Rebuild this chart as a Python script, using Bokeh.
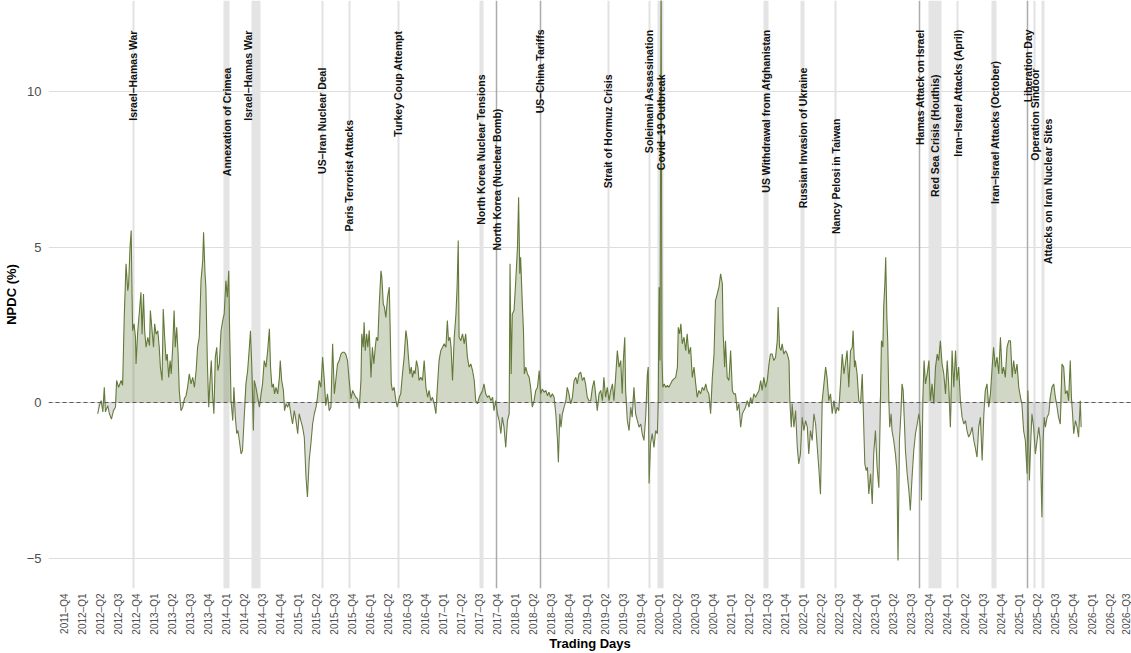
import numpy as np
from math import pi
from bokeh.plotting import figure
from bokeh.models import ColumnDataSource, FixedTicker
from bokeh.core.properties import value
from bokeh.embed import file_html
from bokeh.resources import INLINE

# ---------------- data ----------------
trading_day = [
    0, 6, 12, 18, 23, 27, 35, 41, 48, 55, 62, 66, 73, 82, 87, 93, 99, 105, 108, 113, 117, 120, 122, 127, 132, 134,
    140, 146, 151, 155, 160, 164, 169, 175, 181, 184, 190, 195, 199, 204, 210, 215, 219, 225, 229, 234, 239, 243,
    248, 253, 257, 262, 267, 271, 276, 281, 285, 291, 297, 303, 309, 314, 320, 326, 332, 338, 344, 349, 355, 361,
    367, 370, 375, 378, 383, 388, 392, 397, 402, 406, 411, 416, 420, 425, 431, 437, 442, 448, 453, 458, 461, 466,
    472, 476, 481, 486, 490, 495, 501, 506, 512, 518, 524, 530, 534, 539, 544, 547, 553, 559, 565, 571, 576, 582,
    588, 594, 600, 604, 609, 614, 618, 623, 629, 635, 638, 643, 649, 653, 658, 664, 669, 675, 681, 687, 693, 699,
    704, 710, 716, 722, 728, 733, 739, 745, 751, 757, 763, 768, 774, 780, 786, 792, 797, 803, 809, 815, 821, 827,
    832, 838, 844, 850, 856,
    861, 867, 873, 879, 885, 891, 896, 902, 908, 914, 920, 923, 928, 931, 935, 940, 944, 949, 955, 960, 965, 970,
    974, 979, 984, 990, 993, 998, 1002, 1007, 1013, 1019, 1022, 1026, 1030, 1036, 1042, 1047, 1054, 1059, 1065,
    1071, 1077, 1082, 1086, 1091, 1096, 1100, 1105, 1109, 1114, 1119, 1123, 1129, 1135, 1141, 1147, 1153, 1158,
    1164, 1170, 1176, 1182, 1187, 1193, 1199, 1205, 1211, 1217, 1222, 1226, 1231, 1235, 1240, 1246, 1252, 1256,
    1260, 1263, 1269, 1275, 1281, 1286, 1292, 1298, 1304, 1310, 1316, 1321, 1327, 1333, 1339, 1345, 1350, 1356,
    1362, 1368, 1374, 1380, 1385, 1391, 1397, 1403, 1409, 1414, 1420, 1426, 1432, 1438, 1441, 1445, 1449, 1455,
    1461, 1467, 1471, 1475, 1478, 1484, 1488, 1491, 1496, 1502, 1508, 1513, 1519, 1525, 1531, 1537, 1543, 1548,
    1554, 1560, 1566, 1572, 1577, 1583, 1589, 1595, 1601, 1607, 1610, 1615, 1619, 1624, 1630, 1636, 1641, 1647,
    1653, 1659, 1665, 1671, 1676, 1682, 1688, 1694, 1700, 1705, 1711, 1717,
    1723, 1729, 1735, 1740, 1746, 1752, 1758, 1764, 1769, 1775, 1781, 1787, 1793, 1799, 1804, 1810, 1816, 1822,
    1828, 1833, 1837, 1842, 1845, 1851, 1857, 1863, 1868, 1874, 1880, 1886, 1892, 1898, 1903, 1909, 1915, 1921,
    1924, 1927, 1932, 1938, 1944, 1950, 1956, 1959, 1962, 1965, 1969, 1972, 1975, 1980, 1985, 1991, 1996, 2002,
    2008, 2014, 2020, 2026, 2029, 2034, 2038, 2043, 2049, 2055, 2060, 2066, 2072, 2078, 2084, 2090, 2095, 2101,
    2107, 2113, 2119, 2125, 2130, 2136, 2142, 2148, 2154, 2159, 2165, 2171, 2177, 2183, 2186, 2191, 2194, 2200,
    2206, 2212, 2218, 2223, 2229, 2235, 2241, 2247, 2253, 2258, 2264, 2270, 2276, 2282, 2287, 2293, 2299, 2305,
    2311, 2317, 2322, 2328, 2334, 2340, 2346, 2351, 2357, 2363, 2369, 2375, 2378, 2383, 2388, 2392, 2398, 2404,
    2410, 2416, 2419, 2424, 2427, 2433, 2439, 2445, 2450, 2456, 2462, 2468, 2474, 2480, 2485, 2491, 2497, 2503,
    2509, 2514, 2520, 2526, 2532, 2538, 2544, 2549, 2555, 2561, 2567, 2573, 2579, 2584, 2590,
    2596, 2602, 2608, 2613, 2619, 2625, 2631, 2637, 2640, 2645, 2648, 2654, 2660, 2666, 2672, 2675, 2681, 2686,
    2690, 2695, 2701, 2707, 2712, 2718, 2724, 2730, 2736, 2739, 2744, 2747, 2751, 2754, 2758, 2761, 2765, 2768,
    2773, 2776, 2782, 2788, 2793, 2797, 2802, 2807, 2811, 2815, 2820, 2823, 2829, 2835, 2840, 2846, 2852, 2858,
    2864, 2870, 2875, 2879, 2884, 2888, 2893, 2899, 2905, 2910, 2916, 2922, 2928, 2934, 2939, 2945, 2951, 2957,
    2963, 2969, 2974, 2980, 2986, 2992, 2998, 3003, 3009, 3015, 3021, 3027, 3033, 3038, 3044, 3050, 3056, 3062,
    3067, 3073, 3079, 3085, 3091, 3097, 3102, 3108, 3114, 3120, 3126, 3131, 3137, 3143, 3149, 3155, 3161, 3166,
    3172, 3178, 3184, 3190, 3196, 3201, 3207, 3213, 3219, 3225, 3230, 3236, 3242, 3248, 3251, 3256, 3261, 3265,
    3271, 3277, 3283, 3289, 3294, 3300, 3304, 3308, 3312, 3318, 3324, 3329, 3335, 3341, 3347, 3353, 3358, 3364,
    3370, 3376, 3382, 3388, 3393, 3399, 3403, 3407, 3411, 3417, 3423, 3428, 3434, 3437,
]
npdc = [
    -0.36, -0.1, 0.06, -0.3, 0.49, -0.3, -0.1, -0.36, -0.53, -0.26, -0.15, 0.71, 0.49, 0.71, 0.55, 2.85, 4.46, 3.6,
    3.8, 5.0, 5.53, 3.49, 2.31, 2.53, 2.1, 1.24, 2.31, 2.96, 3.55, 2.2, 3.49, 2.31, 1.78, 2.1, 1.83, 2.96, 2.31,
    1.78, 2.53, 2.2, 2.31, 1.78, 1.14, 0.71, 3.01, 2.1, 1.35, 1.56, 0.81, 1.35, 0.92, 1.78, 2.96, 1.78, 2.42, 1.56,
    0.39, -0.26, -0.15, 0.12, 0.23, 0.49, 0.92, 0.6, 0.81, 0.49, 1.03, 1.78, 2.1, 3.92, 4.57, 5.48, 4.14, 3.71,
    1.35, -0.15, 0.6, 1.35, 0.17, -0.36, 1.46, 1.78, 1.03, 1.24, 2.31, 2.64, 2.85, 3.92, 3.39, 4.24, 2.31, 0.06,
    -0.58, 0.49, -0.47, -1.0, -0.9, -1.22, -1.65, -1.54, -0.47, 0.6, 1.03, 1.78, 2.31, 1.03, -0.9, 0.71, 0.49,
    0.17, -0.15, 0.28, 0.6, 1.35, 1.14, 1.67, 2.37, 1.14, 0.49, 0.6, 0.28, 0.49, 0.28, 0.81, 1.35, 0.71, 0.39,
    -0.26, -0.04, -0.15, 0.01, -0.36, -0.69, -0.26, -0.58, -1.0, -0.36, -0.58, -0.79, -1.11, -2.4, -3.04, -1.86,
    -1.33, -0.69, -0.36, -0.15, 0.17, 0.71, 0.49, 1.46, 0.71, -0.1, 0.28, -0.26, -0.15, 1.89, 0.28, 0.71, 1.24,
    1.35, 1.56, 1.62,
    1.62, 1.56, 1.35, 0.71, 0.12, 0.39, 0.28, 0.17, 0.12, -0.2, 0.71, 2.21, 1.78, 2.58, 1.67, 2.21, 1.78, 2.32,
    0.81, 1.78, 1.24, 1.78, 2.1, 1.99, 3.17, 4.24, 4.03, 3.17, 3.07, 2.74, 3.39, 3.71, 2.42, 0.6, 0.39, 0.49, 0.06,
    -0.15, 0.17, 0.28, 0.92, 1.46, 2.32, 1.99, 1.46, 0.92, 1.14, 0.81, 1.03, 0.92, 1.35, 1.14, 0.71, 0.81, 0.71,
    1.35, 0.49, 0.17, 0.39, 0.06, 0.17, -0.04, -0.36, 0.49, 1.35, 1.67, 1.78, 1.89, 1.78, 2.64, 1.99, 2.1, 1.78,
    0.71, 2.1, 2.85, 3.71, 5.21, 2.1, 1.99, 2.21, 1.89, 2.21, 1.46, 1.14, 1.24, 1.03, 0.71, 0.06, -0.04, 0.17, 0.28,
    0.39, 0.6, 0.28, 0.17, 0.22, 0.06, 0.17, -0.26, 0.06, -0.36, -0.58, -1.0, -0.47, -0.79, -1.44, -0.58, -0.36,
    4.46, 0.92, 2.85, 2.96, 3.92, 4.99, 6.6, 4.14, 4.67, 3.17, 2.32, 0.92, 1.14, 0.92, 0.81, 0.49, -0.15, 0.06,
    0.39, 0.49, 1.03, 0.28, 0.44, 0.33, 0.39, 0.22, 0.33, 0.17, 0.28, 0.17, -0.36, -1.22, -1.92, -0.36, -0.79,
    -0.36, -0.15, 0.06, 0.49, 0.28, -0.04, 0.17, 0.71, 0.81, 0.6, 0.92, 0.98, 0.71, 0.81, 0.6, 0.17, 0.06,
    0.06, 0.49, 0.71, 0.28, -0.26, 0.28, 0.39, 0.06, 0.81, 0.17, 0.49, 0.06, 0.39, 0.6, 0.06, 0.81, 1.67, 1.14,
    1.35, 0.28, 1.35, 2.1, 0.39, -0.58, -0.9, -0.15, -0.47, 0.49, -0.36, -0.58, -0.79, -0.69, -1.0, -1.22, -0.47,
    0.92, 1.14, -2.6, -1.33, -1.0, -1.44, -0.9, -1.0, 0.06, 3.71, 1.35, 14.0, 1.46, 0.49, 0.6, 0.49, 0.55, 0.49,
    0.6, 0.71, 0.76, 0.81, 1.14, 2.42, 2.21, 2.53, 1.89, 2.1, 1.67, 2.21, 1.56, 1.78, 0.81, 1.14, 0.6, 0.17, 0.39,
    0.28, 0.49, 0.39, 0.6, 0.39, 0.28, -0.36, 0.81, 1.56, 3.28, 3.49, 3.71, 4.14, 3.82, 2.21, 1.14, 1.99, 0.81,
    0.71, 1.67, 0.39, 0.28, 0.28, -0.26, -0.04, -0.79, -0.36, -0.26, -0.15, 0.06, -0.15, 0.17, -0.04, 0.28, 0.17,
    0.28, 0.39, 0.71, 0.39, 0.81, 0.49, 0.71, 1.24, 1.56, 1.56, 1.35, 1.46, 1.99, 3.07, 1.78, 1.67, 1.89, 1.56,
    1.67, 1.56, 1.35, 0.06, -0.79, -0.04, -0.79, -0.26, -1.44, -1.97, -1.65, -0.47, -0.9, -0.58, -0.79, -1.65,
    -0.9, -1.22, -0.36, -0.69, -1.33, -2.08, -2.95, 0.06, 0.6, 1.14, 0.81, 0.06, 0.28, -0.36, 0.06, -0.36, -0.15,
    -0.26,
    0.6, 1.56, 0.92, 1.24, 1.67, 0.49, 1.67, 1.78, 2.32, 1.14, 1.35, 0.92, 0.06, -0.04, 0.92, -0.04, -1.97, -2.19,
    -2.08, -2.94, -2.29, -3.26, -1.65, -0.9, -2.08, -2.74, 0.28, 1.99, 1.78, 3.07, 3.82, 4.67, 2.74, 1.99, 0.06,
    -0.79, -0.36, -0.9, -1.22, -1.65, -2.19, -5.08, -1.22, -0.36, 0.6, 0.39, -0.79, -1.54, -2.29, -2.83, -3.47,
    -2.4, -1.54, -1.0, -0.69, -0.36, -0.79, -3.15, 0.17, 1.35, 0.6, 0.92, 1.35, 0.06, 0.6, -0.04, 1.14, 1.56, 1.35,
    1.99, 1.24, 0.92, 0.28, 1.35, 0.6, -0.79, 1.67, 0.49, 1.67, 0.71, 1.14, 0.06, -0.47, -0.69, -0.58, -0.9, -1.11,
    -1.0, -0.79, -1.22, -1.44, -1.76, -0.79, -0.47, -1.86, -0.36, 0.39, 0.6, -0.15, 0.28, 1.14, 1.78, 1.14, 1.46,
    0.92, 2.1, 0.92, 1.14, 0.81, 1.78, 1.99, 1.99, 0.81, 1.35, 0.92, 1.24, 0.49, 0.17, -0.04, -0.9, -1.22, -2.29,
    0.39, -2.51, -1.22, -0.36, -0.79, -1.65, -1.22, -0.79, -1.22, -3.69, -1.22, -0.47, -0.79, -0.47, -0.36, 0.17,
    0.49, 0.6, 0.17, -0.15, -0.47, -0.69, 1.24, 1.14, 0.28, 0.39, 0.06, 1.35, 0.17, -0.36, -1.0, -0.58, -0.79,
    -1.11, 0.06, -0.79,
]

# quarter tick labels on the trading-day axis
quarter_labels = (["2011–Q4"]
                  + [f"{y}–Q{q}" for y in range(2012, 2026) for q in (1, 2, 3, 4)]
                  + ["2026–Q1", "2026–Q2", "2026–Q3"])
first_tick_day = -116
days_per_quarter = 63

# events (trading-day positions)
band_start = [439, 537, 1333, 1958, 2328, 2457, 2905, 3125, 3299]
band_end = [460, 568, 1347, 1979, 2346, 2471, 2950, 3142, 3310]
light_event_day = [125, 785, 879, 1050, 1784, 1927, 2580, 3006, 3275]
dark_event_day = [1392, 1546, 2873, 3250]

label_names = [
    "Israel–Hamas War", "Annexation of Crimea", "Israel–Hamas War", "US–Iran Nuclear Deal",
    "Paris Terrorist Attacks", "Turkey Coup Attempt", "North Korea Nuclear Tensions",
    "North Korea (Nuclear Bomb)", "US–China Tariffs", "Strait of Hormuz Crisis", "Soleimani Assassination",
    "Covid–19 Outbreak", "US Withdrawal from Afghanistan", "Russian Invasion of Ukraine",
    "Nancy Pelosi in Taiwan", "Hamas Attack on Israel", "Red Sea Crisis (Houthis)",
    "Iran–Israel Attacks (April)", "Iran–Israel Attacks (October)", "Liberation Day", "Operation Sindoor",
    "Attacks on Iran Nuclear Sites",
]
label_day = [125, 453, 526, 785, 879, 1050, 1340, 1395, 1546, 1784, 1927, 1969, 2335, 2464, 2580, 2873, 2926,
             3006, 3135, 3250, 3275, 3320]
label_top = [11.96, 10.77, 11.96, 10.77, 9.10, 11.96, 10.55, 9.45, 12.0, 10.55, 12.0, 10.55, 12.0, 10.77, 9.13,
             12.0, 10.55, 12.0, 11.0, 12.0, 10.74, 9.13]

y_ticks = [-5, 0, 5, 10]
y_tick_labels = ["−5", "0", "5", "10"]

# ---------------- figure ----------------
FONT = "Liberation Sans"
GREEN = "#647a3a"

p = figure(width=1131, height=653, x_range=(-172, 3613), y_range=(-5.98, 12.93),
           output_backend="svg", toolbar_location=None,
           min_border_left=47, min_border_right=0, min_border_top=0, min_border_bottom=0)
p.outline_line_color = None
p.background_fill_color = "white"
p.border_fill_color = "white"

p.xgrid.visible = False
p.ygrid.grid_line_color = "#dddddd"
p.ygrid.grid_line_width = 1.2

p.yaxis.ticker = FixedTicker(ticks=y_ticks)
p.yaxis.major_label_overrides = dict(zip(y_ticks, y_tick_labels))
x_ticks = [first_tick_day + days_per_quarter * k for k in range(len(quarter_labels))]
p.xaxis.ticker = FixedTicker(ticks=x_ticks)
p.xaxis.major_label_overrides = dict(zip(x_ticks, quarter_labels))
p.xaxis.major_label_orientation = pi / 2

for ax in (p.xaxis[0], p.yaxis[0]):
    ax.axis_line_color = None
    ax.major_tick_line_color = None
    ax.minor_tick_line_color = None
    ax.major_tick_out = 0
    ax.major_tick_in = 0
    ax.minor_tick_out = 0
    ax.minor_tick_in = 0
    ax.major_label_text_font = FONT
    ax.major_label_text_color = "#4d4d4d"
    ax.axis_label_text_font = FONT
    ax.axis_label_text_font_style = "bold"
    ax.axis_label_text_font_size = "13px"
    ax.axis_label_text_color = "black"

p.xaxis.axis_label = "Trading Days"
p.yaxis.axis_label = "NPDC (%)"
p.xaxis.major_label_text_font_size = "10px"
p.yaxis.major_label_text_font_size = "13px"
p.xaxis.major_label_standoff = 5
p.yaxis.major_label_standoff = 7
p.xaxis.axis_label_standoff = -2
p.yaxis.axis_label_standoff = 5

# event bands and lines
p.vstrip(x0=band_start, x1=band_end, fill_color="#e4e4e4", line_color=None)
p.vspan(x=light_event_day, line_color="#e2e2e2", line_width=2)
p.vspan(x=dark_event_day, line_color="#ababab", line_width=1.5)

# series
v = np.array(npdc, dtype=float)
src = ColumnDataSource(dict(t=trading_day, v=npdc, pos=np.maximum(v, 0), neg=np.minimum(v, 0)))
p.line("t", "v", source=src, line_color=GREEN, line_width=1.1)
p.varea(x="t", y1=0, y2="pos", source=src, fill_color=GREEN, fill_alpha=0.3)
p.varea(x="t", y1="neg", y2=0, source=src, fill_color="#8c8c8c", fill_alpha=0.28)
p.hspan(y=[0], line_color="#5a5a5a", line_width=1, line_dash="4 3")

# event labels
lsrc = ColumnDataSource(dict(x=label_day, y=label_top, name=label_names))
p.text(x="x", y="y", text="name", source=lsrc, angle=pi / 2, text_align="right", text_baseline="middle",
       text_font=value(FONT), text_font_style="bold", text_font_size="10.5px", text_color="#111111")

open("out.html", "w").write(file_html(p, INLINE))
